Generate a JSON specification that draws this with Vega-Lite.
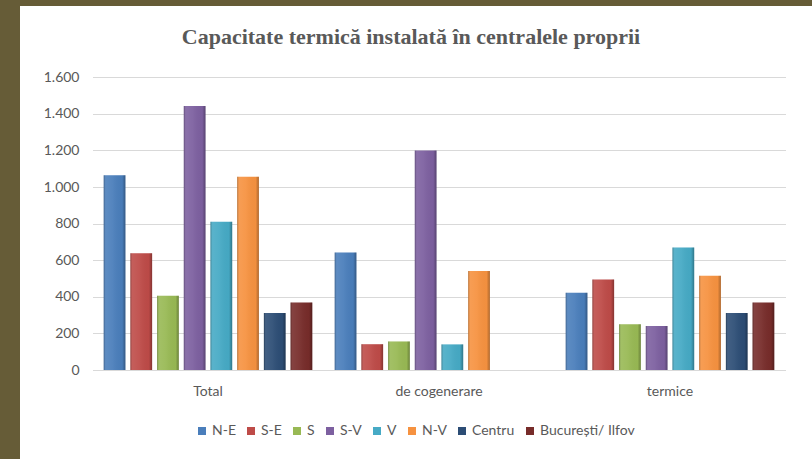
{
  "$schema": "https://vega.github.io/schema/vega-lite/v6.json",
  "width": 792,
  "height": 453,
  "autosize": {"type": "none"},
  "padding": {"left": 20, "top": 6, "right": 0, "bottom": 0},
  "background": "#665c37",
  "config": {
    "view": {"fill": "#ffffff", "stroke": null},
    "locale": {
      "number": {"decimal": ",", "thousands": ".", "grouping": [3], "currency": ["", " lei"]}
    },
    "axis": {"labelFont": "Lato", "labelFontSize": 14, "labelColor": "#595959"}
  },
  "title": {
    "text": "Capacitate termică instalată în centralele proprii",
    "font": "Liberation Serif",
    "fontSize": 22,
    "fontWeight": "bold",
    "color": "#595959",
    "frame": "group",
    "anchor": "middle",
    "baseline": "alphabetic",
    "offset": -60,
    "dx": -5
  },
  "data": {
    "values": [
      {"categorie": "Total", "regiune": "N-E", "valoare": 1064},
      {"categorie": "Total", "regiune": "S-E", "valoare": 638},
      {"categorie": "Total", "regiune": "S", "valoare": 406},
      {"categorie": "Total", "regiune": "S-V", "valoare": 1443},
      {"categorie": "Total", "regiune": "V", "valoare": 811},
      {"categorie": "Total", "regiune": "N-V", "valoare": 1056},
      {"categorie": "Total", "regiune": "Centru", "valoare": 311},
      {"categorie": "Total", "regiune": "București/ Ilfov", "valoare": 369},
      {"categorie": "de cogenerare", "regiune": "N-E", "valoare": 642},
      {"categorie": "de cogenerare", "regiune": "S-E", "valoare": 141},
      {"categorie": "de cogenerare", "regiune": "S", "valoare": 156},
      {"categorie": "de cogenerare", "regiune": "S-V", "valoare": 1200},
      {"categorie": "de cogenerare", "regiune": "V", "valoare": 140},
      {"categorie": "de cogenerare", "regiune": "N-V", "valoare": 541},
      {"categorie": "termice", "regiune": "N-E", "valoare": 422},
      {"categorie": "termice", "regiune": "S-E", "valoare": 495},
      {"categorie": "termice", "regiune": "S", "valoare": 250},
      {"categorie": "termice", "regiune": "S-V", "valoare": 241},
      {"categorie": "termice", "regiune": "V", "valoare": 670},
      {"categorie": "termice", "regiune": "N-V", "valoare": 515},
      {"categorie": "termice", "regiune": "Centru", "valoare": 311},
      {"categorie": "termice", "regiune": "București/ Ilfov", "valoare": 369}
    ]
  },
  "encoding": {
    "x": {
      "field": "categorie",
      "type": "nominal",
      "sort": ["Total", "de cogenerare", "termice"],
      "scale": {"range": [72.5, 765.5], "paddingInner": 0, "paddingOuter": 0},
      "axis": {
        "orient": "bottom",
        "offset": -89,
        "title": null,
        "domain": false,
        "ticks": false,
        "labelAngle": 0,
        "labelPadding": 14
      }
    },
    "xOffset": {
      "field": "regiune",
      "type": "nominal",
      "sort": ["N-E", "S-E", "S", "S-V", "V", "N-V", "Centru", "București/ Ilfov"],
      "scale": {"paddingInner": 0.187, "paddingOuter": 0.42}
    },
    "y": {
      "field": "valoare",
      "type": "quantitative",
      "stack": null,
      "scale": {"domain": [0, 1600], "range": [364, 71.3], "nice": false},
      "axis": {
        "title": null,
        "offset": -72.5,
        "domain": false,
        "ticks": false,
        "labelPadding": 13.5,
        "values": [0, 200, 400, 600, 800, 1000, 1200, 1400, 1600],
        "format": ",d",
        "grid": true,
        "gridColor": "#d9d9d9"
      }
    }
  },
  "layer": [
    {
      "mark": {"type": "bar"},
      "encoding": {
        "color": {
          "field": "regiune",
          "type": "nominal",
          "scale": {
            "domain": ["N-E", "S-E", "S", "S-V", "V", "N-V", "Centru", "București/ Ilfov"],
            "range": ["#4a7ebb", "#be4b48", "#98b954", "#7d60a0", "#46aac5", "#f69240", "#2c4d75", "#772c2a"]
          },
          "legend": {
            "orient": "none",
            "legendX": 175,
            "legendY": 418,
            "direction": "horizontal",
            "title": null,
            "symbolType": "square",
            "symbolSize": 64,
            "symbolStrokeWidth": 0,
            "labelFont": "Lato",
            "labelFontSize": 14,
            "labelColor": "#595959",
            "columnPadding": 8,
            "labelOffset": 3
          }
        }
      }
    },
    {
      "mark": {
        "type": "bar",
        "fill": {
          "gradient": "linear",
          "x1": 0, "y1": 0, "x2": 1, "y2": 0,
          "stops": [
            {"offset": 0, "color": "rgba(0,0,0,0.28)"},
            {"offset": 0.1, "color": "rgba(255,255,255,0.10)"},
            {"offset": 0.4, "color": "rgba(255,255,255,0.06)"},
            {"offset": 0.85, "color": "rgba(0,0,0,0.02)"},
            {"offset": 1, "color": "rgba(0,0,0,0.30)"}
          ]
        }
      }
    }
  ]
}
